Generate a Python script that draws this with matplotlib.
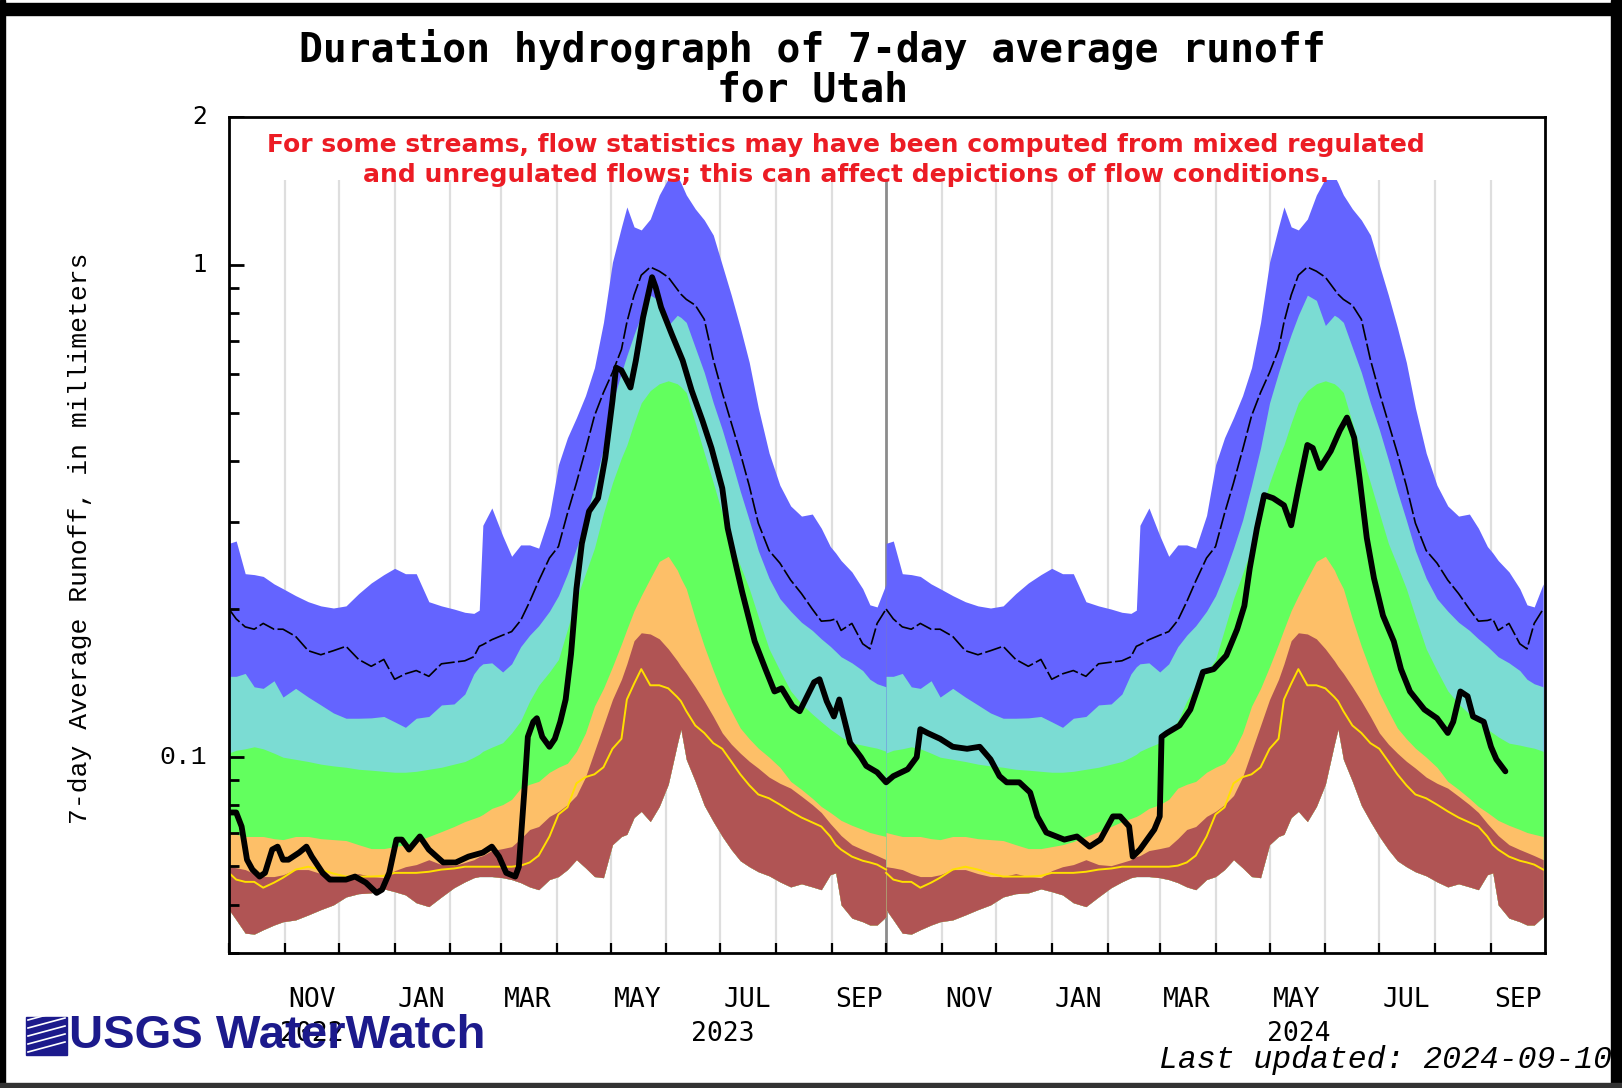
import numpy as np
import matplotlib
matplotlib.use("Agg")
import matplotlib.pyplot as plt
import matplotlib.dates as mdates
from matplotlib.patches import Rectangle
from matplotlib.lines import Line2D
from matplotlib.ticker import FixedLocator, NullFormatter

# daily-statistics climatology, sampled by day of water year (0 = Oct 1)
wy_day = [0, 4, 9, 14, 19, 25, 30, 37, 44, 51, 58, 65, 72, 79, 86, 92, 98, 104, 111, 118,
          125, 131, 136, 139, 141, 146, 152, 157, 162, 167, 172, 178, 183, 188, 193, 198,
          203, 208, 213, 218, 221, 225, 229, 234, 239, 244, 249, 251, 254, 259, 264, 269,
          274, 279, 284, 289, 294, 300, 306, 312, 318, 324, 329, 334, 337, 340, 346, 352,
          356, 360, 365]

q_max = [0.272, 0.275, 0.236, 0.235, 0.233, 0.225, 0.220, 0.213, 0.207, 0.203, 0.201, 0.203,
         0.215, 0.226, 0.235, 0.242, 0.236, 0.236, 0.207, 0.203, 0.200, 0.197, 0.196, 0.199,
         0.296, 0.321, 0.282, 0.256, 0.270, 0.270, 0.266, 0.310, 0.393, 0.446, 0.490, 0.543,
         0.619, 0.765, 1.014, 1.196, 1.313, 1.196, 1.179, 1.241, 1.389, 1.50, 1.52, 1.47,
         1.389, 1.301, 1.235, 1.151, 1.000, 0.869, 0.747, 0.634, 0.513, 0.415, 0.357, 0.324,
         0.309, 0.312, 0.292, 0.268, 0.260, 0.251, 0.238, 0.220, 0.204, 0.202, 0.225]

q90 = [0.146, 0.146, 0.148, 0.139, 0.138, 0.143, 0.1325, 0.138, 0.1325, 0.1277, 0.123, 0.120,
       0.120, 0.1202, 0.121, 0.118, 0.115, 0.120, 0.121, 0.1277, 0.1283, 0.1344, 0.1477, 0.1527,
       0.1548, 0.1555, 0.149, 0.1548, 0.1677, 0.177, 0.185, 0.198, 0.213, 0.236, 0.266, 0.303,
       0.357, 0.425, 0.525, 0.605, 0.655, 0.723, 0.791, 0.869, 0.848, 0.754, 0.791, 0.783,
       0.765, 0.680, 0.605, 0.525, 0.463, 0.402, 0.347, 0.303, 0.263, 0.231, 0.210, 0.198,
       0.188, 0.181, 0.174, 0.168, 0.164, 0.160, 0.1555, 0.150, 0.144, 0.141, 0.139]

q75 = [0.102, 0.1033, 0.104, 0.105, 0.104, 0.1019, 0.100, 0.099, 0.098, 0.0968, 0.096, 0.0954,
       0.0945, 0.0941, 0.0936, 0.0932, 0.0932, 0.0936, 0.0945, 0.0954, 0.0968, 0.098, 0.100,
       0.1014, 0.1028, 0.1048, 0.107, 0.112, 0.1185, 0.130, 0.140, 0.149, 0.158, 0.182, 0.210,
       0.236, 0.266, 0.313, 0.361, 0.406, 0.431, 0.478, 0.525, 0.556, 0.574, 0.582, 0.574,
       0.566, 0.551, 0.478, 0.415, 0.361, 0.313, 0.272, 0.245, 0.220, 0.193, 0.166, 0.150,
       0.1364, 0.1283, 0.1224, 0.118, 0.114, 0.112, 0.110, 0.1068, 0.1058, 0.105, 0.1043, 0.1028]

q25 = [0.0703, 0.0697, 0.069, 0.069, 0.069, 0.0683, 0.068, 0.069, 0.069, 0.0683, 0.068, 0.0677,
       0.0664, 0.0652, 0.0652, 0.0658, 0.0664, 0.0674, 0.069, 0.0706, 0.0723, 0.074, 0.0751,
       0.0758, 0.0765, 0.0787, 0.0801, 0.0821, 0.0865, 0.0881, 0.0893, 0.0932, 0.0954, 0.0972,
       0.1028, 0.112, 0.127, 0.138, 0.1527, 0.170, 0.182, 0.1986, 0.213, 0.231, 0.250, 0.256,
       0.240, 0.231, 0.220, 0.191, 0.168, 0.150, 0.135, 0.1241, 0.1146, 0.109, 0.1043, 0.100,
       0.0954, 0.0893, 0.086, 0.0825, 0.0794, 0.0772, 0.0758, 0.0744, 0.0727, 0.0713, 0.0703,
       0.0697, 0.069]

q10 = [0.0599, 0.0596, 0.0591, 0.058, 0.0572, 0.0572, 0.0577, 0.0591, 0.0591, 0.058, 0.0572,
       0.0572, 0.058, 0.0572, 0.0569, 0.0588, 0.0599, 0.0605, 0.0619, 0.0605, 0.0602, 0.0611,
       0.0619, 0.0628, 0.0631, 0.0646, 0.0652, 0.0658, 0.0683, 0.0713, 0.0723, 0.0758, 0.0776,
       0.0801, 0.0836, 0.0911, 0.1028, 0.116, 0.131, 0.144, 0.1548, 0.1725, 0.179, 0.178,
       0.174, 0.166, 0.157, 0.153, 0.148, 0.139, 0.130, 0.121, 0.112, 0.1063, 0.1019, 0.0981,
       0.095, 0.0911, 0.0885, 0.0865, 0.0833, 0.0801, 0.0772, 0.0733, 0.0713, 0.0693, 0.0664,
       0.0649, 0.064, 0.0631, 0.0619]

q_min = [0.049, 0.0467, 0.0439, 0.0437, 0.0446, 0.0456, 0.0463, 0.0467, 0.0478, 0.049, 0.0501,
         0.052, 0.0528, 0.053, 0.054, 0.0533, 0.0525, 0.0506, 0.0497, 0.052, 0.0543, 0.0558,
         0.0569, 0.0572, 0.0572, 0.0572, 0.0569, 0.0564, 0.0556, 0.0545, 0.0538, 0.0564, 0.0572,
         0.0591, 0.0619, 0.0596, 0.0572, 0.0569, 0.0664, 0.069, 0.0697, 0.0754, 0.0776, 0.074,
         0.0794, 0.0881, 0.1063, 0.114, 0.099, 0.0893, 0.0798, 0.074, 0.069, 0.0649, 0.0616,
         0.0599, 0.0585, 0.0574, 0.0558, 0.0545, 0.0553, 0.0545, 0.0538, 0.0577, 0.0582, 0.0501,
         0.0471, 0.0463, 0.0456, 0.0456, 0.0474]

q_median = [0.0582, 0.0564, 0.0558, 0.0558, 0.0543, 0.0556, 0.0569, 0.0591, 0.0599, 0.0591,
            0.058, 0.0572, 0.0572, 0.0572, 0.0574, 0.0582, 0.0582, 0.0582, 0.0585, 0.0591,
            0.0594, 0.0599, 0.0599, 0.0599, 0.0599, 0.0599, 0.0599, 0.0599, 0.0602, 0.0611,
            0.0631, 0.069, 0.0765, 0.0791, 0.0885, 0.0911, 0.0923, 0.0954, 0.104, 0.109, 0.131,
            0.141, 0.151, 0.140, 0.140, 0.138, 0.1325, 0.130, 0.1241, 0.116, 0.112, 0.1068,
            0.104, 0.098, 0.0923, 0.0877, 0.084, 0.0825, 0.0801, 0.0776, 0.0754, 0.0737, 0.0723,
            0.069, 0.0664, 0.0649, 0.0628, 0.0616, 0.0611, 0.0605, 0.0591]

q_mean = [0.200, 0.191, 0.184, 0.182, 0.187, 0.182, 0.182, 0.176, 0.1646, 0.1615, 0.1646, 0.168,
          0.158, 0.153, 0.158, 0.144, 0.1477, 0.150, 0.146, 0.1548, 0.156, 0.157, 0.160, 0.168,
          0.1693, 0.1733, 0.177, 0.180, 0.1896, 0.207, 0.228, 0.254, 0.268, 0.313, 0.361, 0.421,
          0.494, 0.551, 0.605, 0.674, 0.765, 0.869, 0.954, 0.991, 0.972, 0.945, 0.893, 0.873,
          0.852, 0.829, 0.776, 0.643, 0.551, 0.478, 0.415, 0.356, 0.299, 0.263, 0.248, 0.229,
          0.215, 0.200, 0.189, 0.1896, 0.191, 0.181, 0.187, 0.170, 0.166, 0.187, 0.200]

# current 7-day average runoff, days after 2022-10-01
cur_day = [0, 4, 7, 10, 13, 17, 20, 24, 27, 30, 33, 39, 43, 46, 52, 56, 65, 70, 76, 82, 85, 89,
           93, 96, 100, 106, 111, 119, 126, 133, 141, 146, 150, 154, 159, 161, 164, 166, 169,
           171, 174, 178, 181, 184, 187, 190, 193, 196, 200, 205, 209, 213, 215, 218, 223, 226,
           230, 235, 237, 240, 246, 252, 257, 263, 268, 274, 277, 282, 285, 292, 298, 303, 307,
           313, 317, 325, 328, 332, 336, 339, 345, 351, 354, 360, 365, 369, 377, 382, 384, 388,
           395, 402, 410, 417, 423, 428, 432, 439, 445, 449, 454, 464, 471, 478, 484, 491, 495,
           500, 502, 506, 514, 517, 518, 521, 528, 534, 538, 541, 547, 554, 560, 564, 567, 571,
           575, 580, 586, 590, 594, 599, 602, 606, 612, 617, 621, 625, 628, 632, 636, 641, 647,
           651, 656, 664, 671, 677, 680, 684, 688, 691, 697, 701, 704, 709]
cur_val = [0.0772, 0.0772, 0.0723, 0.0619, 0.0591, 0.0572, 0.0582, 0.0649, 0.0658, 0.0619,
           0.0619, 0.064, 0.0658, 0.0628, 0.0582, 0.0564, 0.0564, 0.0572, 0.0556, 0.053, 0.0538,
           0.0582, 0.068, 0.068, 0.0649, 0.069, 0.0649, 0.0611, 0.0611, 0.0628, 0.064, 0.0658,
           0.0628, 0.0582, 0.0572, 0.0599, 0.0848, 0.110, 0.118, 0.120, 0.110, 0.105, 0.109,
           0.118, 0.131, 0.162, 0.220, 0.272, 0.316, 0.336, 0.406, 0.530, 0.619, 0.611, 0.564,
           0.640, 0.783, 0.945, 0.902, 0.821, 0.723, 0.640, 0.556, 0.483, 0.425, 0.352, 0.292,
           0.242, 0.217, 0.172, 0.151, 0.136, 0.138, 0.127, 0.124, 0.142, 0.144, 0.130, 0.121,
           0.131, 0.107, 0.100, 0.096, 0.0932, 0.0889, 0.0915, 0.0945, 0.100, 0.114, 0.112,
           0.109, 0.105, 0.104, 0.105, 0.099, 0.0915, 0.0889, 0.0889, 0.0848, 0.0758, 0.0703,
           0.068, 0.069, 0.0658, 0.068, 0.0758, 0.0758, 0.0723, 0.0628, 0.0649, 0.0713, 0.0758,
           0.110, 0.112, 0.116, 0.125, 0.138, 0.149, 0.151, 0.161, 0.182, 0.203, 0.242, 0.292,
           0.341, 0.336, 0.325, 0.296, 0.352, 0.431, 0.425, 0.387, 0.419, 0.461, 0.490, 0.446,
           0.369, 0.279, 0.231, 0.194, 0.172, 0.151, 0.136, 0.125, 0.120, 0.112, 0.118, 0.136,
           0.133, 0.121, 0.118, 0.105, 0.099, 0.0936]

wy_starts = ["2022-10-01", "2023-10-01"]
period = ("2022-10-01", "2024-10-01")
y_ticks = [0.1, 1, 2]
y_tick_text = ["0.1", "1", "2"]
month_names = {11: "NOV", 1: "JAN", 3: "MAR", 5: "MAY", 7: "JUL", 9: "SEP"}

band_colors = ["#6464ff", "#7bdcd3", "#62ff5e", "#fdbf68", "#b05454"]
band_tops = [q_max, q90, q75, q25, q10]

W, H = 1622, 1088
fig = plt.figure(figsize=(W / 100, H / 100), dpi=100)
ax = fig.add_axes([229 / W, 1 - 953 / H, (1545 - 229) / W, (953 - 117) / H])

days = np.array(wy_day).astype("timedelta64[D]")
for start in wy_starts:
    x = np.datetime64(start) + days
    for top, c in zip(band_tops, band_colors):
        ax.fill_between(x, q_min, top, color=c, lw=0, zorder=1)
    ax.plot(x, q_median, color="#ffe000", lw=1.4, zorder=2)
    ax.plot(x, q_mean, color="black", lw=1.2, ls=(0, (10, 2)), zorder=2)

cur_x = np.datetime64(period[0]) + np.array(cur_day).astype("timedelta64[D]")
ax.plot(cur_x, cur_val, color="black", lw=4.2, zorder=3,
        solid_joinstyle="round", solid_capstyle="round")

# month grid
x0, x1 = np.datetime64(period[0]), np.datetime64(period[1])
months = np.arange("2022-10", "2024-10", dtype="datetime64[M]").astype("datetime64[D]")
for m in months[1:]:
    dark = str(m).endswith("-10-01")
    ax.vlines(m, 0.04, 1.49, colors="#8c8c8c" if dark else "#dedede",
              lw=2.0 if dark else 1.6, zorder=0.5)

ax.set_yscale("log")
ax.set_ylim(0.04, 2)
ax.set_xlim(mdates.date2num(x0), mdates.date2num(x1))

# white band above the data area for the note
ax.axhspan(1.49, 2.0, color="white", lw=0, zorder=4)

ax.set_xticks(mdates.date2num(months))
ax.tick_params(axis="x", direction="in", length=7, width=1.6, labelbottom=False,
               top=False)
ax.yaxis.set_major_locator(FixedLocator(y_ticks))
ax.yaxis.set_minor_locator(FixedLocator([0.04, 0.05, 0.06, 0.07, 0.08, 0.09,
                                         0.2, 0.3, 0.4, 0.5, 0.6, 0.7, 0.8, 0.9]))
ax.yaxis.set_major_formatter(NullFormatter())
ax.yaxis.set_minor_formatter(NullFormatter())
ax.tick_params(axis="y", which="major", direction="in", length=11, width=2, right=False)
ax.tick_params(axis="y", which="minor", direction="in", length=7, width=2, right=False)
for s in ax.spines.values():
    s.set_linewidth(2)
    s.set_zorder(6)

ytr = ax.get_yaxis_transform()
for v, t in zip(y_ticks, y_tick_text):
    if t == "0.1":
        ax.text(-0.0165, v, t, transform=ytr, ha="right", va="center",
                fontsize=19, family="Liberation Mono")
    else:
        ax.text(-0.0165, v, t, transform=ytr, ha="right", va="center",
                fontsize=17, family="DejaVu Sans")

# month and year labels
xtr = ax.get_xaxis_transform()
for m in months:
    mi = int(str(m)[5:7])
    if mi in month_names:
        nxt = (m.astype("datetime64[M]") + 1).astype("datetime64[D]")
        mid = m + (nxt - m) / 2
        ax.text(mdates.date2num(mid), -0.056, month_names[mi], transform=xtr,
                ha="center", va="center", fontsize=19, family="DejaVu Sans Mono")
for yr in (2022, 2023, 2024):
    lo = max(x0, np.datetime64(f"{yr}-01-01"))
    hi = min(x1, np.datetime64(f"{yr + 1}-01-01"))
    ax.text(mdates.date2num(lo + (hi - lo) / 2), -0.097, str(yr), transform=xtr,
            ha="center", va="center", fontsize=19, family="DejaVu Sans Mono")

# titles and notes
fig.text(812 / W, 1 - 50 / H, "Duration hydrograph of 7-day average runoff",
         ha="center", va="center", fontsize=28.5, family="DejaVu Sans Mono",
         fontweight="bold")
fig.text(812 / W, 1 - 90 / H, "for Utah",
         ha="center", va="center", fontsize=28.5, family="DejaVu Sans Mono",
         fontweight="bold")
note_red = "#ec1c24"
fig.text(846 / W, 1 - 145 / H,
         "For some streams, flow statistics may have been computed from mixed regulated",
         ha="center", va="center", fontsize=18, fontweight="bold", color=note_red,
         family="DejaVu Sans")
fig.text(846 / W, 1 - 175 / H,
         "and unregulated flows; this can affect depictions of flow conditions.",
         ha="center", va="center", fontsize=18, fontweight="bold", color=note_red,
         family="DejaVu Sans")
fig.text(80 / W, 1 - 538 / H, "7-day Average Runoff, in millimeters", rotation=90,
         ha="center", va="center", fontsize=19, family="Liberation Mono")
fig.text(1612 / W, 1 - 1060 / H, "Last updated: 2024-09-10", ha="right", va="center",
         fontsize=22.7, family="Liberation Mono", style="italic")

# WaterWatch logo
navy = "#1c1a8c"
fig.add_artist(Rectangle((26 / W, 1 - 1055 / H), 41 / W, 38 / H, color=navy,
                         transform=fig.transFigure, zorder=5))
for k in range(5):
    yy = 1 - (1052 - k * 8) / H
    fig.add_artist(Line2D([28 / W, 65 / W], [yy, yy + 10 / H], color="white", lw=1.2,
                          transform=fig.transFigure, zorder=6))
fig.text(69 / W, 1 - 1036 / H, "USGS WaterWatch", ha="left", va="center", fontsize=34,
         fontweight="bold", color=navy, family="Liberation Sans", zorder=6)

# outer frame
for (fx, fy, fw, fh, c) in [(0, 3, W, 12, "black"), (0, 0, 5, H, "black"),
                            (1611, 0, 11, H, "black"), (0, H - 5, W, 5, "#333333")]:
    fig.add_artist(Rectangle((fx / W, 1 - (fy + fh) / H), fw / W, fh / H, color=c,
                             transform=fig.transFigure, zorder=7))

fig.savefig("out.png", dpi=100)
